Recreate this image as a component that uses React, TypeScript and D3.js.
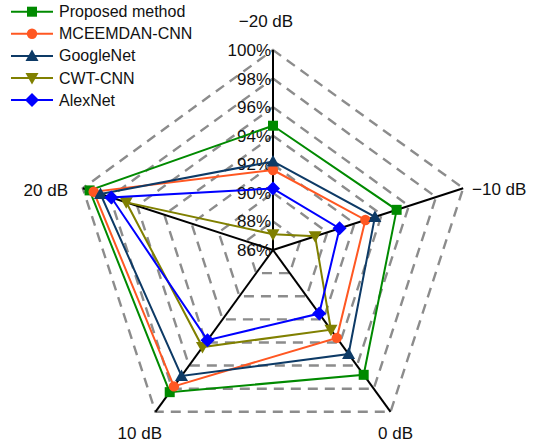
import React from "react";
import * as d3 from "d3";

const categories = ["\u221220 dB", "\u221210 dB", "0 dB", "10 dB", "20 dB"];
const tickValues = [86, 88, 90, 92, 94, 96, 98, 100];
const tickLabels = ["86%", "88%", "90%", "92%", "94%", "96%", "98%", "100%"];
const seriesNames = ["Proposed method", "MCEEMDAN-CNN", "GoogleNet", "CWT-CNN", "AlexNet"];
const proposed = [94.7, 95.1, 96.8, 98.3, 99.5];
const mceemdan = [91.6, 92.8, 93.6, 97.8, 99.2];
const googlenet = [92.2, 93.5, 95.0, 96.9, 98.7];
const cwtcnn = [87.1, 89.1, 92.9, 94.4, 96.8];
const alexnet = [90.3, 90.9, 91.5, 93.8, 97.9];
const seriesValues = [proposed, mceemdan, googlenet, cwtcnn, alexnet];
const colors = ["#008a00", "#ff5722", "#0d3a66", "#808000", "#0000ff"];
const markers = ["square", "circle", "triangle", "triangleDown", "diamond"];

const W = 537, H = 445;
const cx = 273, cy = 250, R = 200;
const FONT = "'Liberation Sans', Arial, sans-serif";

function Marker({ type, x, y, color }: { type: string; x: number; y: number; color: string }) {
  if (type === "square") return <rect x={x - 5} y={y - 5} width={10} height={10} fill={color} />;
  if (type === "circle") return <circle cx={x} cy={y} r={5.2} fill={color} />;
  if (type === "triangle")
    return <path d={`M${x},${y - 6.5}L${x + 6.5},${y + 5}L${x - 6.5},${y + 5}Z`} fill={color} />;
  if (type === "triangleDown")
    return <path d={`M${x},${y + 6.5}L${x + 6.5},${y - 5}L${x - 6.5},${y - 5}Z`} fill={color} />;
  return <path d={`M${x},${y - 7}L${x + 7},${y}L${x},${y + 7}L${x - 7},${y}Z`} fill={color} />;
}

export default function App() {
  const r = d3.scaleLinear().domain([86, 100]).range([0, R]);
  const n = categories.length;
  const angle = (i: number) => -Math.PI / 2 + (i * 2 * Math.PI) / n;
  const pt = (i: number, v: number): [number, number] => [
    cx + r(v) * Math.cos(angle(i)),
    cy + r(v) * Math.sin(angle(i)),
  ];
  const lineGen = d3.line<[number, number]>().curve(d3.curveLinearClosed);

  const labelPos = [
    { x: 266, y: 27, anchor: "middle" },
    { x: 472, y: 195, anchor: "start" },
    { x: 378, y: 439, anchor: "start" },
    { x: 162, y: 439, anchor: "end" },
    { x: 68, y: 196, anchor: "end" },
  ];

  return (
    <svg width={W} height={H} style={{ position: "absolute", left: 0, top: 0, background: "#fff" }}>
      {tickValues.slice(1).map((t) => (
        <path
          key={t}
          d={lineGen(categories.map((_, i) => pt(i, t))) || ""}
          fill="none"
          stroke="#8c8c8c"
          strokeWidth={2.4}
          strokeDasharray="10,7"
        />
      ))}
      {categories.map((c, i) => {
        const [x, y] = pt(i, 100);
        return <line key={c} x1={cx} y1={cy} x2={x} y2={y} stroke="#000" strokeWidth={2} />;
      })}
      {tickValues.map((t, k) => (
        <text
          key={t}
          x={271}
          y={cy - r(t) + 6}
          textAnchor="end"
          fontFamily={FONT}
          fontSize={17}
          fill="#111"
        >
          {tickLabels[k]}
        </text>
      ))}
      {categories.map((c, i) => (
        <text
          key={c}
          x={labelPos[i].x}
          y={labelPos[i].y}
          textAnchor={labelPos[i].anchor as any}
          fontFamily={FONT}
          fontSize={17}
          fill="#111"
        >
          {c}
        </text>
      ))}
      {seriesValues.map((vals, s) => {
        const pts = vals.map((v, i) => pt(i, v));
        return (
          <g key={seriesNames[s]}>
            <path d={lineGen(pts) || ""} fill="none" stroke={colors[s]} strokeWidth={2} />
            {pts.map((p, i) => (
              <Marker key={i} type={markers[s]} x={p[0]} y={p[1]} color={colors[s]} />
            ))}
          </g>
        );
      })}
      {seriesNames.map((name, s) => {
        const y = 11.7 + s * 22.1;
        return (
          <g key={name}>
            <line x1={11} x2={53} y1={y} y2={y} stroke={colors[s]} strokeWidth={2} />
            <Marker type={markers[s]} x={32} y={y} color={colors[s]} />
            <text x={59} y={y + 5.5} fontFamily={FONT} fontSize={16} fill="#111">
              {name}
            </text>
          </g>
        );
      })}
    </svg>
  );
}
